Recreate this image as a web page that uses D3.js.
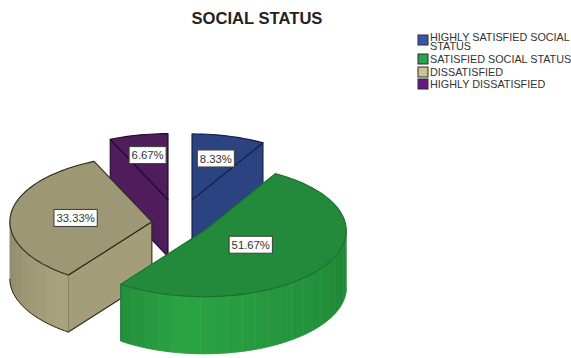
<!DOCTYPE html>
<html>
<head>
<meta charset="utf-8">
<script src="https://cdn.jsdelivr.net/npm/d3@7/dist/d3.min.js"></script>
<style>
  html, body { margin: 0; padding: 0; background: #fff; }
  svg { display: block; font-family: "Liberation Sans", Arial, sans-serif; }
</style>
</head>
<body>
<svg id="chart" width="571" height="358"></svg>
<script>
// Survey answers and their shares of respondents
const categories = ["HIGHLY SATISFIED SOCIAL STATUS", "SATISFIED SOCIAL STATUS", "DISSATISFIED", "HIGHLY DISSATISFIED"];
const shares = [8.33, 51.67, 33.33, 6.67];
const explodeBy = [0.362, 0.215, 0.19, 0.362];
const labelReach = [0.65, 0.39, 0.54, 0.69];

const topColors = ["#2b4481", "#23893b", "#9d9775", "#4f1c5c"];
const faceColors = ["#2b4481", "#23893b", "#a39d79", "#4f1c5c"];
const wallEdge = [["#2b4481", "#2b4481"], ["#1f8436", "#2aa443"], ["#8e8968", "#aaa380"], ["#4f1c5c", "#4f1c5c"]];
const strokeColors = ["#121d45", "#1b6e30", "#2c2a1b", "#1e0a26"];
const legendColors = ["#3557ab", "#28a548", "#cbc48e", "#6a1a7e"];

const svg = d3.select("#chart");
const rx = 142, ry = 66, depth = 57;
const hub = { x: 178.7, y: 223 };

const slices = d3.pie().value(d => d).sort(null)(shares);

// Projects a pie angle and radius fraction onto the tilted plane
const project = (a, r, c, dy = 0) => [c.x + rx * r * Math.sin(a), c.y - ry * r * Math.cos(a) + dy];
const toPath = d3.line();
const angleSteps = (a0, a1, step) => {
  const n = Math.max(1, Math.ceil((a1 - a0) / step));
  return d3.range(n + 1).map(i => a0 + (a1 - a0) * i / n);
};

const geometry = slices.map((s, i) => {
  const mid = (s.startAngle + s.endAngle) / 2;
  const c = { x: hub.x + explodeBy[i] * rx * Math.sin(mid), y: hub.y - explodeBy[i] * ry * Math.cos(mid) };
  return { s, i, mid, c };
});

// Back slices first so the front ones overlap them
const paintOrder = [0, 3, 2, 1];
const fine = Math.PI / 90, band = Math.PI / 30;

paintOrder.forEach(idx => {
  const { s, i, c } = geometry[idx];
  const g = svg.append("g");
  const stroke = strokeColors[i];

  // Flat cut faces that look toward the viewer
  [s.startAngle, s.endAngle].forEach((a, k) => {
    const visible = (k === 0 && a > Math.PI) || (k === 1 && a < Math.PI / 2);
    if (!visible) return;
    const p = project(a, 1, c), p2 = project(a, 1, c, depth);
    const o = project(a, 0, c), o2 = project(a, 0, c, depth);
    g.append("path")
      .attr("d", toPath([p, o, o2, p2]) + "Z")
      .attr("fill", faceColors[i])
      .attr("stroke", stroke)
      .attr("stroke-width", 1.1)
      .attr("stroke-linejoin", "round");
  });

  // Outer wall on the front half of the rim, shaded in narrow vertical bands
  const w0 = Math.max(s.startAngle, Math.PI / 2), w1 = Math.min(s.endAngle, 3 * Math.PI / 2);
  if (w1 > w0) {
    const peak = i === 1 ? 3.3 : s.startAngle;
    const shade = d3.scaleLinear()
      .domain(i === 1 ? [w0, peak, w1] : [w1, w0])
      .range(i === 1 ? [wallEdge[1][0], wallEdge[1][1], "#248f3c"] : wallEdge[i])
      .interpolate(d3.interpolateRgb);
    const marks = angleSteps(w0, w1, band);
    d3.pairs(marks).forEach(([a, b]) => {
      const top = angleSteps(a, b, fine).map(t => project(t, 1, c));
      const bottom = angleSteps(a, b, fine).map(t => project(t, 1, c, depth)).reverse();
      const colour = shade((a + b) / 2);
      g.append("path")
        .attr("d", toPath(top.concat(bottom)) + "Z")
        .attr("fill", colour)
        .attr("stroke", colour)
        .attr("stroke-width", 0.6);
    });
    g.append("path")
      .attr("d", toPath(angleSteps(w0, w1, fine).map(t => project(t, 1, c, depth))))
      .attr("fill", "none")
      .attr("stroke", i === 1 ? "#2a9a43" : stroke)
      .attr("stroke-width", i === 1 ? 0.8 : 1);
    if (s.endAngle <= 3 * Math.PI / 2 && s.endAngle > Math.PI / 2) {
      g.append("path")
        .attr("d", toPath([project(s.endAngle, 1, c), project(s.endAngle, 1, c, depth)]))
        .attr("stroke", stroke).attr("stroke-width", 1.1);
    }
  }

  // Top surface of the slice
  const rim = angleSteps(s.startAngle, s.endAngle, fine).map(t => project(t, 1, c));
  g.append("path")
    .attr("d", toPath([project(0, 0, c), ...rim]) + "Z")
    .attr("fill", topColors[i])
    .attr("stroke", stroke)
    .attr("stroke-width", 1.1)
    .attr("stroke-linejoin", "round");
});

// Percentage tags sit on top of every slice
geometry.forEach(({ s, i, mid, c }) => {
  const [lx, ly] = project(mid, labelReach[i], c);
  const g = svg.append("g").attr("transform", `translate(${lx},${ly})`);
  const text = g.append("text")
    .attr("text-anchor", "middle")
    .attr("dy", "0.36em")
    .attr("font-size", 11.3)
    .attr("fill", "#333")
    .text(shares[i].toFixed(2) + "%");
  const w = text.node().getComputedTextLength() + 5;
  g.insert("rect", "text")
    .attr("x", -w / 2).attr("y", -8.5)
    .attr("width", w).attr("height", 17)
    .attr("fill", "#fff")
    .attr("stroke", "#444")
    .attr("stroke-width", 1.1);
});

svg.append("text")
  .attr("x", 257).attr("y", 23.5)
  .attr("text-anchor", "middle")
  .attr("font-size", 16.6)
  .attr("font-weight", "bold")
  .attr("fill", "#222")
  .text("SOCIAL STATUS");

// Legend: the first entry wraps onto two tightly spaced lines
const legendLines = [["HIGHLY SATISFIED SOCIAL", "STATUS"], [categories[1]], [categories[2]], [categories[3]]];
const legendTop = [35, 54, 67, 79];
const legend = svg.append("g").attr("font-size", 10.8).attr("fill", "#333");
categories.forEach((c, i) => {
  legend.append("rect")
    .attr("x", 418).attr("y", legendTop[i])
    .attr("width", 10).attr("height", 10)
    .attr("fill", legendColors[i])
    .attr("stroke", "#2a2a3a").attr("stroke-width", 1);
  legendLines[i].forEach((line, k) => {
    legend.append("text")
      .attr("x", 430)
      .attr("y", (i === 0 ? 37 : legendTop[i] + 5) + k * 9)
      .attr("dy", "0.36em")
      .text(line);
  });
});
</script>
</body>
</html>
